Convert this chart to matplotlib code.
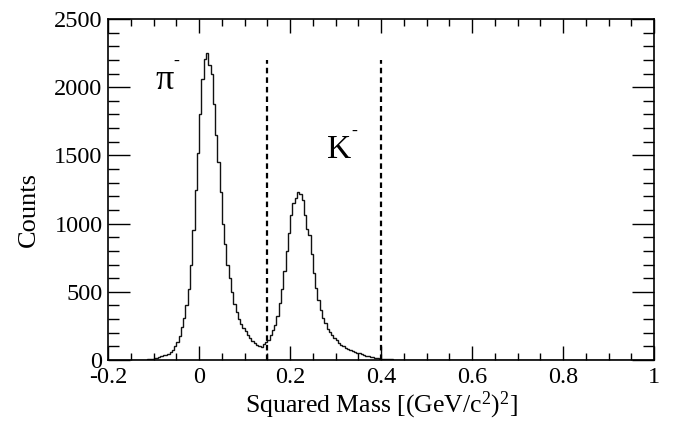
import numpy as np
import matplotlib
matplotlib.use("Agg")
import matplotlib.pyplot as plt
from matplotlib.ticker import MultipleLocator

plt.rcParams['font.family'] = ['Liberation Serif', 'DejaVu Serif']
plt.rcParams['mathtext.fontset'] = 'custom'
plt.rcParams['mathtext.rm'] = 'Liberation Serif'
plt.rcParams['mathtext.it'] = 'Liberation Serif:italic'
plt.rcParams['mathtext.default'] = 'regular'

# Histogram binning: width 0.005 over the full axis range
bin_width = 0.005
x_min, x_max = -0.2, 1.0

# Counts for bins starting at -0.130 (consecutive 0.005 steps); all other bins are empty
first_filled_edge = -0.130
filled_counts = [
    1, 2, 3, 5, 7, 9, 12, 16, 21, 27,
    33, 40, 46, 55, 75, 100, 135, 175, 240, 310,
    400, 520, 700, 950, 1250, 1520, 1800, 2060, 2210, 2250,
    2160, 2100, 1880, 1650, 1450, 1230, 1000, 850, 700, 600,
    500, 410, 350, 300, 265, 235, 210, 180, 160, 138,
    125, 112, 100, 97, 118, 130, 150, 180, 220, 260,
    320, 420, 520, 650, 800, 930, 1060, 1150, 1190, 1230,
    1215, 1170, 1060, 960, 920, 780, 640, 530, 440, 370,
    310, 270, 230, 205, 180, 160, 145, 125, 112, 100,
    90, 82, 72, 65, 60, 52, 48, 42, 38, 32,
    28, 24, 20, 16, 13, 10, 8, 6, 5, 4,
    4, 3, 3, 2, 2, 2, 1, 1, 1, 0,
]

# Selection window edges and their drawn height
cut_positions = [0.15, 0.4]
cut_height = 2200

x_tick_labels = ["-0.2", "0", "0.2", "0.4", "0.6", "0.8", "1"]

n_bins = int(round((x_max - x_min) / bin_width))
edges = x_min + bin_width * np.arange(n_bins + 1)
counts = np.zeros(n_bins)
start = int(round((first_filled_edge - x_min) / bin_width))
counts[start:start + len(filled_counts)] = filled_counts

fig = plt.figure(figsize=(6.8, 4.23), dpi=100)
ax = fig.add_axes([0.159, 0.149, 0.803, 0.806])

ax.stairs(counts, edges, color="#111111", linewidth=1.0)

for xc in cut_positions:
    ax.plot([xc, xc], [0, cut_height], color="black", linewidth=1.6,
            linestyle=(0, (2.5, 1.8)))

ax.set_xlim(x_min, x_max)
ax.set_ylim(0, 2500)

ax.set_xticks(np.linspace(-0.2, 1.0, len(x_tick_labels)))
ax.set_xticklabels(x_tick_labels)
ax.xaxis.set_minor_locator(MultipleLocator(0.05))
ax.yaxis.set_major_locator(MultipleLocator(500))
ax.yaxis.set_minor_locator(MultipleLocator(100))

ax.tick_params(axis="x", which="major", direction="in", length=10, width=1,
               top=True, labelsize=17.5, pad=5)
ax.tick_params(axis="x", which="minor", direction="in", length=5, width=1, top=True)
ax.tick_params(axis="y", which="major", direction="in", length=16, width=1,
               right=True, labelsize=17.5, pad=4)
ax.tick_params(axis="y", which="minor", direction="in", length=8, width=1, right=True)

for s in ax.spines.values():
    s.set_linewidth(1.2)

ax.set_xlabel(r"Squared Mass [(GeV/c$^{2}$)$^{2}$]", fontsize=18.5, labelpad=1)
ax.set_ylabel("Counts", fontsize=19)
ax.yaxis.set_label_coords(-0.125, 0.44)

ax.text(-0.097, 1990, "π", fontsize=26, ha="left", va="baseline")
ax.text(-0.057, 2160, "-", fontsize=13, ha="left", va="baseline")
ax.text(0.281, 1480, "K", fontsize=24, ha="left", va="baseline")
ax.text(0.334, 1645, "-", fontsize=13, ha="left", va="baseline")

fig.savefig("out.png", dpi=100)
